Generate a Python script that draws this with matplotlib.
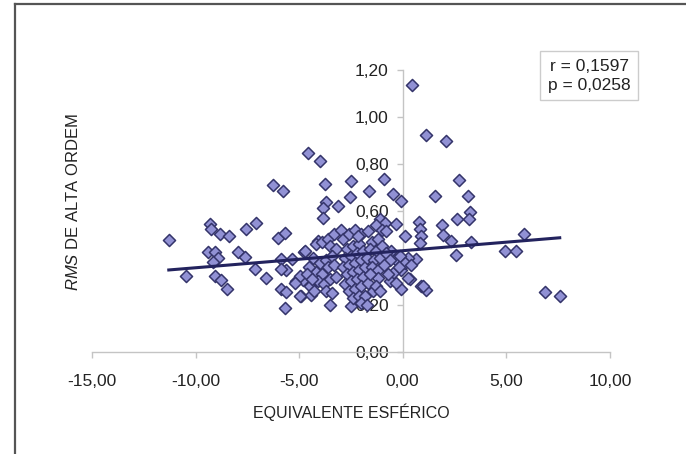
# scatter: RMS de alta ordem x equivalente esferico
import matplotlib
matplotlib.use("Agg")
import matplotlib.pyplot as plt
from matplotlib.lines import Line2D
from matplotlib.ticker import FuncFormatter

plt.rcParams['font.family'] = ['Liberation Sans', 'DejaVu Sans']
plt.rcParams['mathtext.fontset'] = 'custom'
plt.rcParams['mathtext.it'] = 'Liberation Sans:italic'
plt.rcParams['mathtext.rm'] = 'Liberation Sans'

# equivalente esferico (x) e RMS de alta ordem (y)
eq_esf = [
    -11.29, -10.48, -9.32, -9.24, -8.84, -8.36, -9.40, -9.08, -8.92, -9.16,
    -9.08, -8.76, -8.49, -7.95, -7.63, -7.55, -7.07, -7.15, -6.62, -6.26,
    -5.78, -6.02, -5.70, -5.86, -5.62, -5.86, -5.62, -5.70, -5.33, -5.86,
    -5.14, -4.82, -4.78, -4.89, -4.57, -3.98, -4.41, -4.73, -4.98, -5.22,
    -4.49, -4.98, -4.33, -4.09, -3.77, -3.69, -3.13, -3.85, -3.85, -3.53,
    -3.85, -4.20, -3.90, -3.60, -3.30, -3.00, -3.50, -3.20, -4.00, -3.70,
    -3.40, -4.20, -3.90, -3.60, -3.30, -4.50, -4.10, -3.80, -3.50, -3.20,
    -4.30, -3.70, -3.40, -4.60, -4.40,
    -2.48, -2.53, -2.48, -2.90, -2.60, -2.30, -2.00, -2.70, -2.40, -2.10,
    -2.80, -2.50, -2.20, -1.90, -2.90, -2.60, -2.30, -2.00, -2.70, -2.40,
    -2.10, -1.80, -2.80, -2.50, -2.20, -1.90, -2.60, -2.30, -2.00, -2.40,
    -2.10, -1.64, -1.11, -0.87, -1.30, -1.00, -1.67, -2.16, -1.50, -1.20,
    -1.60, -1.30, -1.00, -1.70, -1.40, -1.10, -1.50, -1.20, -1.19, -1.67,
    -1.43, -1.84, -1.60, -1.30, -1.10, -2.00, -1.70,
    -0.92, -0.47, -0.06, 0.79, 0.82, 0.90, 0.82, 0.10, -0.30, -0.79,
    0.66, 0.34, 0.90, 1.14, -0.06, -0.06, 0.26, -0.48, -0.63, -0.39,
    -0.14, -0.55, 0.47, -0.71, -0.30, -0.80, -0.60, -0.90, 0.10, 0.40,
    -0.20, 0.26, 0.98,
    1.14, 2.08, 2.71, 1.55, 3.16, 3.24, 3.21, 2.63, 1.92, 1.95,
    2.32, 3.29, 2.56, 5.85, 4.93, 5.49, 6.86, 7.58,
]
rms = [
    0.475, 0.322, 0.544, 0.522, 0.500, 0.494, 0.425, 0.425, 0.400, 0.384,
    0.325, 0.308, 0.266, 0.425, 0.405, 0.525, 0.548, 0.355, 0.313, 0.711,
    0.687, 0.483, 0.505, 0.397, 0.351, 0.266, 0.256, 0.187, 0.397, 0.355,
    0.301, 0.308, 0.425, 0.237, 0.848, 0.814, 0.244, 0.430, 0.322, 0.294,
    0.280, 0.237, 0.400, 0.472, 0.715, 0.637, 0.622, 0.611, 0.572, 0.200,
    0.351, 0.460, 0.470, 0.480, 0.500, 0.520, 0.450, 0.440, 0.380, 0.390,
    0.410, 0.340, 0.330, 0.360, 0.370, 0.360, 0.300, 0.290, 0.310, 0.320,
    0.260, 0.260, 0.250, 0.330, 0.310,
    0.729, 0.658, 0.194, 0.480, 0.500, 0.520, 0.500, 0.440, 0.450, 0.460,
    0.400, 0.410, 0.420, 0.430, 0.360, 0.370, 0.380, 0.390, 0.330, 0.340,
    0.350, 0.360, 0.290, 0.300, 0.310, 0.320, 0.260, 0.270, 0.280, 0.230,
    0.240, 0.687, 0.565, 0.551, 0.540, 0.520, 0.515, 0.494, 0.470, 0.480,
    0.440, 0.430, 0.450, 0.400, 0.390, 0.400, 0.360, 0.350, 0.315, 0.294,
    0.258, 0.237, 0.330, 0.280, 0.260, 0.210, 0.200,
    0.737, 0.672, 0.644, 0.553, 0.525, 0.494, 0.465, 0.494, 0.544, 0.515,
    0.394, 0.311, 0.280, 0.263, 0.268, 0.351, 0.400, 0.338, 0.301, 0.394,
    0.408, 0.430, 1.136, 0.330, 0.294, 0.420, 0.390, 0.370, 0.380, 0.370,
    0.360, 0.315, 0.280,
    0.925, 0.896, 0.734, 0.665, 0.665, 0.594, 0.565, 0.565, 0.540, 0.498,
    0.472, 0.468, 0.411, 0.504, 0.430, 0.430, 0.254, 0.240,
]

# reta de regressao
slope = 0.00726
intercept = 0.431
r_txt = "r = 0,1597"
p_txt = "p = 0,0258"

xticks = [-15, -10, -5, 0, 5, 10]
yticks = [0, 0.2, 0.4, 0.6, 0.8, 1.0, 1.2]

fig = plt.figure(figsize=(6.86, 4.54), dpi=100)
ax = fig.add_axes([0.134, 0.2247, 0.755, 0.6211])

ax.scatter(eq_esf, rms, marker='D', s=38, facecolor='#9191d4',
           edgecolor='#34346a', linewidth=1.1, zorder=3)

lx = [min(eq_esf), max(eq_esf)]
ly = [intercept + slope * v for v in lx]
ax.plot(lx, ly, color='#23235e', linewidth=2.2, zorder=4)

ax.set_xlim(-15, 10)
ax.set_ylim(0, 1.2)
ax.set_xticks(xticks)
ax.set_yticks(yticks)
fmt = FuncFormatter(lambda v, pos: f"{v:.2f}".replace('.', ','))
ax.xaxis.set_major_formatter(fmt)
ax.yaxis.set_major_formatter(fmt)

ax.spines['left'].set_position(('data', 0))
ax.spines['bottom'].set_position(('data', 0))
for s in ['top', 'right']:
    ax.spines[s].set_visible(False)
for s in ['left', 'bottom']:
    ax.spines[s].set_color('#c4c4c4')
    ax.spines[s].set_linewidth(1.0)
ax.tick_params(axis='both', colors='#c4c4c4', labelcolor='#222222',
               labelsize=12.5, length=4, width=1)
ax.tick_params(axis='x', pad=12)
ax.tick_params(axis='y', pad=6)

ax.set_xlabel("EQUIVALENTE ESFÉRICO", fontsize=11.5, color='#222222',
              labelpad=10)
fig.text(0.107, 0.555, r"$\mathit{RMS}$ DE ALTA ORDEM", rotation=90,
         ha='center', va='center', fontsize=12, color='#222222')

fig.text(0.859, 0.833, r_txt + "\n" + p_txt, ha='center', va='center',
         fontsize=12.5, color='#222222', linespacing=1.3,
         bbox=dict(boxstyle='square,pad=0.45', fc='white', ec='#cccccc',
                   lw=1))

# moldura externa (so topo e esquerda visiveis)
fig.add_artist(Line2D([0.0219, 1.0], [0.991, 0.991], color='#555555',
                      lw=1.6, transform=fig.transFigure))
fig.add_artist(Line2D([0.0219, 0.0219], [0.0, 0.991], color='#555555',
                      lw=1.6, transform=fig.transFigure))

fig.savefig("out.png", dpi=100)
